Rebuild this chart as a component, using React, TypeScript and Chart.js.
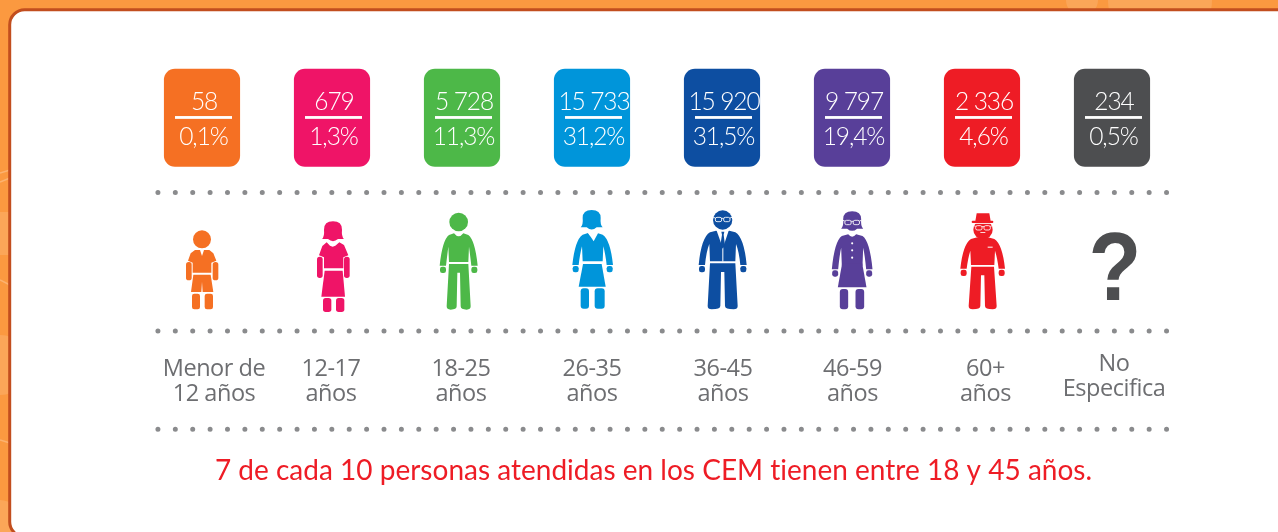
import React, { useEffect, useRef } from "react";
import { Chart, registerables } from "chart.js";

Chart.register(...registerables);

const categories = ["Menor de 12 años", "12-17 años", "18-25 años", "26-35 años", "36-45 años", "46-59 años", "60+ años", "No Especifica"];
const labelLines = [["Menor de", "12 años"], ["12-17", "años"], ["18-25", "años"], ["26-35", "años"], ["36-45", "años"], ["46-59", "años"], ["60+", "años"], ["No", "Especifica"]];
const counts = ["58", "679", "5 728", "15 733", "15 920", "9 797", "2 336", "234"];
const shares = ["0,1%", "1,3%", "11,3%", "31,2%", "31,5%", "19,4%", "4,6%", "0,5%"];
const colors = ["#F57023", "#EF1467", "#4DB848", "#0095DA", "#0D4EA1", "#583F99", "#EE1C25", "#4D4E50"];
const note = "7 de cada 10 personas atendidas en los CEM tienen entre 18 y 45 años.";

// Layout bands on the vertical scale
const tileBand: [number, number] = [69, 166.3];
const ruleBand = [116, 118.8];
const dotRows = [192.5, 331, 429.3];
const dotSpan = [-0.339, 7.43];
const figureRow = 267.5;
const labelOffsets = [12, -1, -1, 0, 1, 0.5, 3.5, 2];

const G = "#6D6E71";
const W = "#FFFFFF";

type C = CanvasRenderingContext2D;

function poly(c: C, pts: number[][]) {
  c.beginPath();
  pts.forEach((p, i) => (i ? c.lineTo(p[0], p[1]) : c.moveTo(p[0], p[1])));
  c.closePath();
  c.fill();
}
function rr(c: C, x: number, y: number, w: number, h: number, r: number) {
  c.beginPath();
  c.roundRect(x, y, w, h, r);
  c.fill();
}
function circle(c: C, x: number, y: number, r: number) {
  c.beginPath();
  c.arc(x, y, r, 0, Math.PI * 2);
  c.fill();
}
function top(c: C, x: number, yS: number, yW: number, h: number, o: number, neck = 14, dip = 18) {
  c.beginPath();
  c.moveTo(x - neck, yS);
  c.quadraticCurveTo(x, yS + dip, x + neck, yS);
  c.lineTo(x + h, yS + 5);
  c.quadraticCurveTo(x + o - 8, yS + 20, x + o, yW + 11);
  c.lineTo(x + o - 19, yW + 11);
  c.quadraticCurveTo(x + o - 23, yS + 62, x + h + 2, yS + 40);
  c.lineTo(x + h, yW);
  c.lineTo(x - h, yW);
  c.lineTo(x - h - 2, yS + 40);
  c.quadraticCurveTo(x - o + 23, yS + 62, x - o + 19, yW + 11);
  c.lineTo(x - o, yW + 11);
  c.quadraticCurveTo(x - o + 8, yS + 20, x - h, yS + 5);
  c.closePath();
  c.fill();
  rr(c, x - o + 1, yW + 14, 18, 19, 7);
  rr(c, x + o - 19, yW + 14, 18, 19, 7);
}
function pants(c: C, x: number, yT: number, yB: number, h: number, flare: number, gap: number) {
  c.beginPath();
  c.moveTo(x - h, yT);
  c.lineTo(x + h, yT);
  c.lineTo(x + h + flare, yB - 10);
  c.quadraticCurveTo(x + h + flare, yB, x + h + flare - 12, yB);
  c.quadraticCurveTo(x + gap + 2, yB, x + gap + 2, yB - 10);
  c.lineTo(x + gap, yT + 26);
  c.lineTo(x - gap, yT + 26);
  c.lineTo(x - gap - 2, yB - 10);
  c.quadraticCurveTo(x - gap - 2, yB, x - h - flare + 12, yB);
  c.quadraticCurveTo(x - h - flare, yB, x - h - flare, yB - 10);
  c.closePath();
  c.fill();
}
function hair(c: C, x: number, t: number, b: number) {
  c.beginPath();
  c.moveTo(x - 33, b);
  c.quadraticCurveTo(x - 25, b - 8, x - 27, b - 28);
  c.quadraticCurveTo(x - 27, t, x, t);
  c.quadraticCurveTo(x + 27, t, x + 27, b - 28);
  c.quadraticCurveTo(x + 25, b - 8, x + 33, b);
  c.lineTo(x + 15, b);
  c.quadraticCurveTo(x, b + 13, x - 15, b);
  c.closePath();
  c.fill();
}
function glasses(c: C, x: number, y: number) {
  c.save();
  c.strokeStyle = W;
  c.lineWidth = 2.6;
  c.beginPath();
  c.roundRect(x - 22, y - 7, 19, 13, 5);
  c.roundRect(x + 3, y - 7, 19, 13, 5);
  c.moveTo(x - 3, y - 4);
  c.lineTo(x + 3, y - 4);
  c.moveTo(x - 22, y - 5);
  c.lineTo(x - 28, y - 7);
  c.moveTo(x + 22, y - 5);
  c.lineTo(x + 28, y - 7);
  c.stroke();
  c.restore();
}

const drawers: ((c: C) => void)[] = [
  (c) => {
    circle(c, 156, 118, 27);
    poly(c, [[135, 150], [150, 150], [156, 168], [162, 150], [178, 150], [190, 160], [199, 182], [184, 188], [184, 218], [128, 218], [128, 188], [114, 182], [122, 160]]);
    rr(c, 108, 186, 17, 55, 8);
    rr(c, 188, 186, 17, 55, 8);
    poly(c, [[130, 224], [182, 224], [190, 276], [158, 276], [156, 245], [154, 276], [123, 276]]);
    rr(c, 126, 281, 24, 47, 7);
    rr(c, 164, 281, 25, 47, 7);
  },
  (c) => {
    hair(c, 549, 64, 117);
    poly(c, [[530, 127], [540, 137], [548, 140], [556, 137], [568, 127], [582, 135], [595, 166], [580, 172], [580, 205], [522, 205], [522, 172], [507, 166], [517, 138]]);
    rr(c, 501, 170, 17, 64, 8);
    rr(c, 582, 170, 17, 64, 8);
    poly(c, [[524, 212], [578, 212], [585, 290], [514, 290]]);
    rr(c, 519, 294, 25, 42, 8);
    rr(c, 558, 294, 25, 42, 8);
  },
  (c) => {
    circle(c, 926, 66, 28);
    top(c, 926, 100, 186, 29, 57);
    pants(c, 926, 192, 329, 29, 7, 4);
  },
  (c) => {
    hair(c, 155, 30, 82);
    top(c, 158, 99, 184, 30, 61, 14, 24);
    c.save();
    c.fillStyle = W;
    poly(c, [[145, 100], [161, 124], [174, 100], [178, 96], [142, 96]]);
    c.restore();
    poly(c, [[129, 192], [185, 192], [197, 260], [116, 260]]);
    rr(c, 122, 265, 25, 61, 9);
    rr(c, 164, 265, 30, 61, 9);
  },
  (c) => {
    circle(c, 548, 60, 29);
    glasses(c, 548, 59);
    top(c, 548, 92, 184, 38, 72, 20, 8);
    c.save();
    c.fillStyle = W;
    poly(c, [[530, 92], [566, 92], [550, 140], [547, 140]]);
    c.fillRect(547, 140, 3, 45);
    c.restore();
    poly(c, [[544, 95], [553, 95], [551, 104], [555, 136], [548.5, 146], [541, 136], [546, 104]]);
    pants(c, 548, 190, 328, 38, 7, 5);
  },
  (c) => {
    hair(c, 935, 34, 86);
    glasses(c, 935, 68);
    top(c, 935, 103, 197, 31, 61, 12, 14);
    c.beginPath();
    c.moveTo(905, 190);
    c.lineTo(965, 190);
    c.lineTo(978, 262);
    c.lineTo(892, 262);
    c.closePath();
    c.fill();
    c.save();
    c.fillStyle = W;
    circle(c, 935, 130, 3.2);
    circle(c, 935, 151, 3.2);
    circle(c, 935, 173, 3.2);
    c.restore();
    rr(c, 898, 267, 25, 61, 9);
    rr(c, 945, 267, 26, 61, 9);
  },
  (c) => {
    poly(c, [[138, 640], [176, 640], [180, 664], [134, 664]]);
    rr(c, 123, 662, 65, 7, 3);
    circle(c, 157, 689, 29);
    c.save();
    c.fillStyle = W;
    c.fillRect(123, 669, 66, 2.5);
    c.fillRect(149, 696, 15, 2.5);
    c.restore();
    glasses(c, 157, 684);
    top(c, 156, 712, 795, 35, 67, 16, 5);
    c.save();
    c.fillStyle = W;
    c.fillRect(171, 740, 15, 3);
    c.restore();
    pants(c, 156, 800, 928, 34, 8, 5);
  },
];
const figureOrigin = [
  [156, 0],
  [546, 0],
  [936, 0],
  [156, 0],
  [546, 0],
  [934.5, 0],
  [154, 600],
];

function makeFigure(i: number): HTMLCanvasElement {
  const cv = document.createElement("canvas");
  cv.width = 120;
  cv.height = 135;
  const c = cv.getContext("2d")!;
  const [cz, yz] = figureOrigin[i];
  c.setTransform(1 / 3, 0, 0, 1 / 3, 60 - cz / 3, -yz / 3);
  c.fillStyle = colors[i];
  drawers[i](c);
  return cv;
}

const frame = {
  id: "frame",
  beforeDraw(chart: any) {
    const c: C = chart.ctx;
    c.save();
    c.fillStyle = "#FB9940";
    c.fillRect(0, 0, 1278, 532);
    c.fillStyle = "rgba(255,255,255,0.13)";
    c.fillRect(0, 212, 10, 43);
    circle(c, 0, 365, 30);
    circle(c, 0, 520, 20);
    circle(c, 1082, 0, 16);
    circle(c, 1160, 0, 52);
    c.strokeStyle = "rgba(255,255,255,0.25)";
    c.lineWidth = 1.5;
    c.beginPath();
    c.moveTo(0, 173);
    c.lineTo(10, 170);
    c.moveTo(0, 182);
    c.lineTo(10, 178);
    c.moveTo(0, 280);
    c.lineTo(10, 285);
    c.moveTo(0, 440);
    c.lineTo(10, 443);
    c.stroke();
    c.fillStyle = "#FFFFFF";
    c.strokeStyle = "#C24E1E";
    c.lineWidth = 3;
    c.beginPath();
    c.roundRect(9.7, 9.7, 1290, 527, 15);
    c.fill();
    c.stroke();
    c.restore();
  },
};

const texts = {
  id: "texts",
  afterDatasetsDraw(chart: any) {
    const c: C = chart.ctx;
    const x = chart.scales.x;
    const y = chart.scales.y;
    c.save();
    c.textAlign = "center";
    c.textBaseline = "alphabetic";
    categories.forEach((_, i) => {
      const px = x.getPixelForValue(i);
      c.fillStyle = W;
      c.fillRect(px - 27, y.getPixelForValue(ruleBand[0]), 57, y.getPixelForValue(ruleBand[1]) - y.getPixelForValue(ruleBand[0]));
      c.font = '300 24.5px Lato, "Open Sans", sans-serif';
      (c as any).letterSpacing = "-1.1px";
      c.fillText(counts[i], px + 2, 110);
      c.fillText(shares[i], px + 1.5, 145);
      c.fillStyle = G;
      c.font = '400 23.5px "Open Sans", sans-serif';
      (c as any).letterSpacing = "-0.45px";
      const top = i === 7 ? 371 : 376;
      c.fillText(labelLines[i][0], px + labelOffsets[i], top);
      c.fillText(labelLines[i][1], px + labelOffsets[i], top + 24.5);
    });
    (c as any).letterSpacing = "0px";
    const qx = x.getPixelForValue(7) + 3;
    c.save();
    c.translate(qx, 300);
    c.scale(0.9, 1);
    c.fillStyle = colors[7];
    c.font = 'bold 96px "Liberation Sans", sans-serif';
    c.fillText("?", 0, 0);
    c.restore();
    c.fillStyle = W;
    c.fillRect(qx - 14, 285.2, 28, 1.5);
    c.fillStyle = colors[6];
    c.font = '400 28px Lato, sans-serif';
    (c as any).letterSpacing = "0.01px";
    c.fillText(note, 653.5, 480);
    c.restore();
  },
};

export default function App() {
  const ref = useRef<HTMLCanvasElement>(null);
  useEffect(() => {
    const chart = new Chart(ref.current!, {
      type: "bar",
      data: {
        datasets: [
          {
            label: "tiles",
            data: categories.map((_, i) => ({ x: i, y: tileBand })),
            backgroundColor: colors,
            borderRadius: 11,
            borderSkipped: false,
            barThickness: 75.5,
          },
          ...dotRows.map((row, i) => ({
            type: "line",
            label: "dots" + i,
            data: [
              { x: dotSpan[0], y: row },
              { x: dotSpan[1], y: row },
            ],
            borderColor: "#8A8B8D",
            borderWidth: 5,
            borderDash: [0, 17.39],
            borderCapStyle: "round",
            pointRadius: 0,
            pointHoverRadius: 0,
            tension: 0,
          })),
          {
            type: "line",
            label: "figures",
            data: categories.slice(0, 7).map((_, i) => ({ x: i, y: figureRow })),
            showLine: false,
            borderWidth: 0,
            pointRadius: 0.1,
            pointHoverRadius: 0,
            pointBorderWidth: 0,
            pointStyle: categories.slice(0, 7).map((_, i) => makeFigure(i)),
          },
        ] as any,
      },
      options: {
        animation: false,
        responsive: false,
        layout: { padding: { left: 137, right: 101, top: 0, bottom: 0 } },
        plugins: { legend: { display: false }, tooltip: { enabled: false }, title: { display: false } },
        scales: {
          x: { type: "linear", min: -0.5, max: 7.5, offset: false, display: false },
          y: { type: "linear", min: 0, max: 532, reverse: true, offset: false, display: false },
        },
      },
      plugins: [frame, texts],
    } as any);
    return () => chart.destroy();
  }, []);
  return (
    <div style={{ position: "fixed", left: 0, top: 0, width: 1278, height: 532 }}>
      <canvas ref={ref} width={1278} height={532} style={{ display: "block" }} />
    </div>
  );
}
